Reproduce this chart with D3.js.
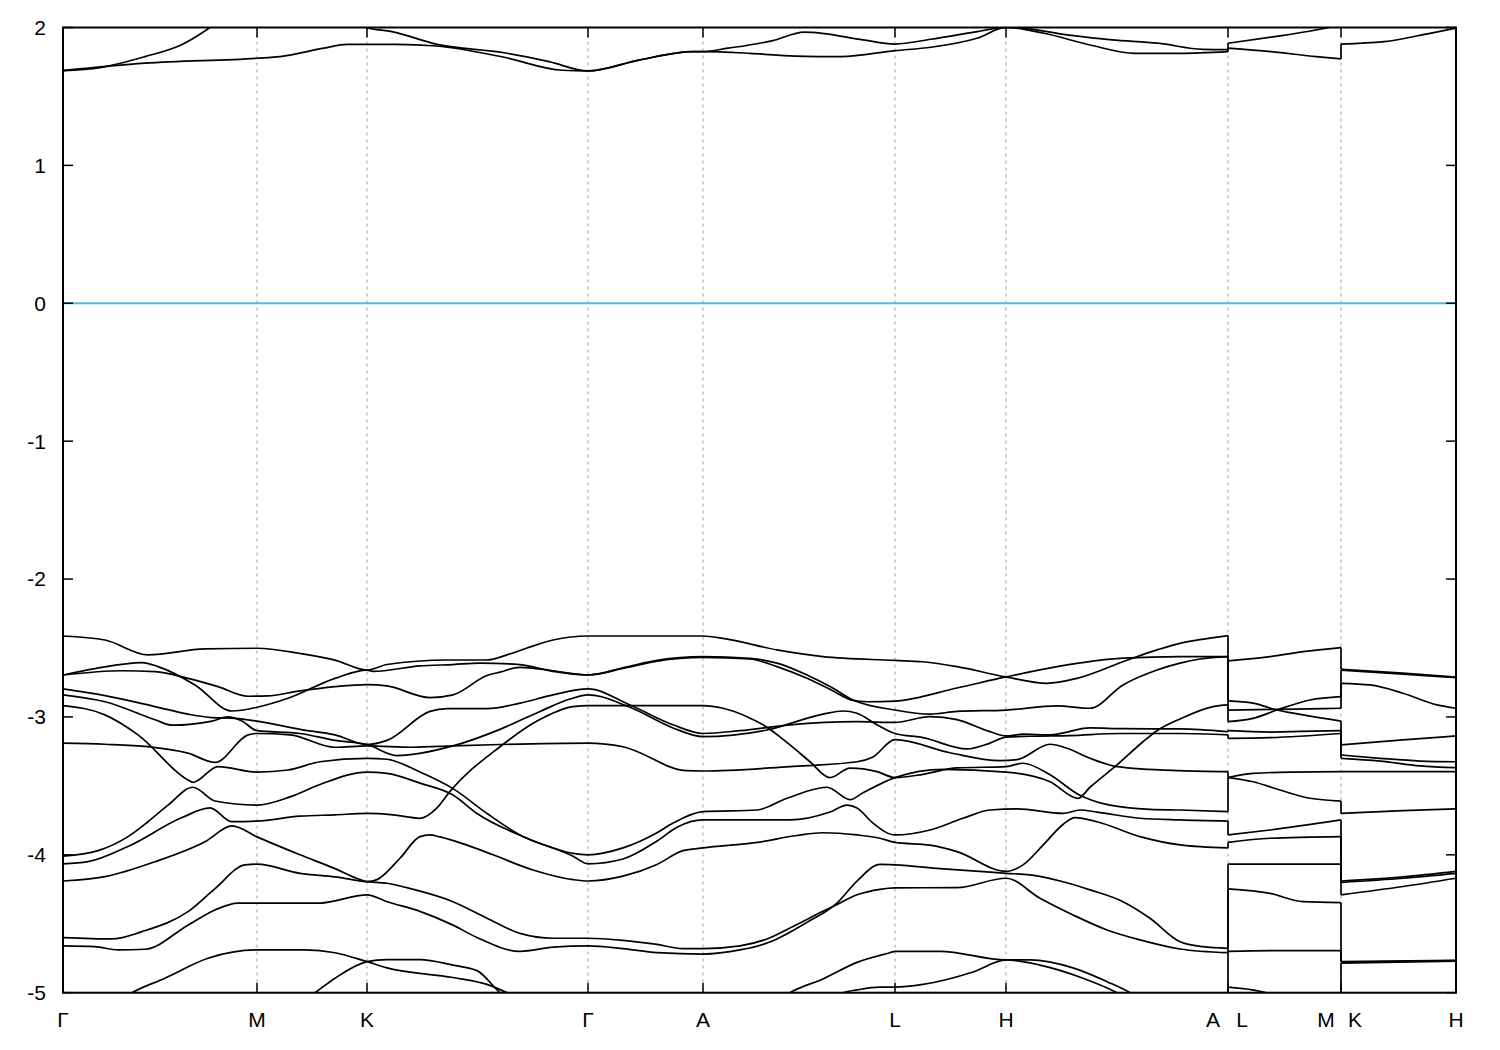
<!DOCTYPE html>
<html><head><meta charset="utf-8">
<script src="https://cdn.jsdelivr.net/npm/d3@7"></script>
<style>body{margin:0;background:#fff}svg{display:block}text{font-family:"Liberation Sans",Arial,sans-serif;font-size:21px;fill:#000}</style>
</head><body><svg id="chart" width="1500" height="1050"></svg>
<script>
// ---- axis data ----
const kTicks  = [0, 1.94, 3.04, 5.25, 6.40, 8.32, 9.43, 11.65, 12.78, 13.93];
const kLabels = ["Γ","M","K","Γ","A","L","H","A|L","M|K","H"];
const eTicks  = [-5,-4,-3,-2,-1,0,1,2];
const fermiLevel = 0;

// ---- valence bands, path Γ-M-K-Γ-A-L-H-A  ([k, E]) ----
const bandA = [[0,-2.413],[0.42,-2.442],[0.85,-2.55],[1.42,-2.507],[1.94,-2.502],[2.37,-2.54],[2.72,-2.588],[3.04,-2.66],[3.24,-2.62],[3.84,-2.587],[4.24,-2.587],[4.44,-2.55],[4.64,-2.50],[4.90,-2.442],[5.25,-2.413],[6.40,-2.413],[6.60,-2.43],[7.14,-2.514],[7.60,-2.563],[8.32,-2.59],[8.60,-2.60],[8.94,-2.635],[9.43,-2.71],[9.84,-2.756],[10.14,-2.72],[10.60,-2.60],[10.94,-2.514],[11.17,-2.466],[11.37,-2.44],[11.65,-2.41]];
const bandB = [[0,-2.696],[0.32,-2.65],[0.79,-2.606],[0.95,-2.635],[1.32,-2.768],[1.69,-2.957],[1.94,-2.93],[2.25,-2.865],[2.72,-2.72],[3.04,-2.66],[3.10,-2.67],[3.57,-2.63],[3.90,-2.62],[4.17,-2.61],[4.57,-2.62],[4.90,-2.67],[5.25,-2.696],[5.62,-2.64],[5.94,-2.59],[6.40,-2.563],[6.87,-2.575],[7.14,-2.61],[7.44,-2.696],[7.67,-2.78],[7.90,-2.877],[8.32,-2.95],[8.67,-2.98],[8.94,-2.96],[9.43,-2.95],[9.94,-2.92],[10.27,-2.937],[10.60,-2.768],[10.94,-2.66],[11.17,-2.61],[11.37,-2.58],[11.65,-2.563]];
const bandC = [[0,-2.696],[0.59,-2.665],[0.92,-2.672],[1.25,-2.72],[1.55,-2.78],[1.85,-2.85],[2.05,-2.848],[2.32,-2.817],[2.72,-2.78],[3.04,-2.765],[3.24,-2.775],[3.67,-2.86],[3.90,-2.84],[4.24,-2.70],[4.37,-2.675],[4.57,-2.64],[4.90,-2.665],[5.25,-2.696],[5.62,-2.645],[5.94,-2.595],[6.40,-2.568],[6.87,-2.58],[7.14,-2.635],[7.44,-2.72],[7.67,-2.80],[7.90,-2.88],[8.04,-2.89],[8.32,-2.885],[8.94,-2.79],[9.43,-2.71],[9.94,-2.635],[10.60,-2.574],[11.17,-2.563],[11.65,-2.563]];
const bandD = [[0,-2.797],[0.42,-2.846],[0.92,-2.925],[1.25,-2.98],[1.49,-3.005],[1.72,-3.01],[1.94,-3.03],[2.37,-3.09],[2.72,-3.13],[3.04,-3.20],[3.24,-3.17],[3.67,-2.96],[3.84,-2.94],[4.24,-2.94],[4.57,-2.90],[4.90,-2.84],[5.25,-2.797],[5.67,-2.913],[6.10,-3.057],[6.40,-3.12],[6.77,-3.10],[7.27,-3.057],[7.94,-3.034],[8.32,-3.04],[8.67,-2.998],[8.94,-3.02],[9.27,-3.107],[9.43,-3.138],[9.60,-3.125],[9.87,-3.13],[10.27,-3.08],[10.60,-3.085],[11.17,-3.087],[11.65,-3.107]];
const bandE = [[0,-2.84],[0.42,-2.89],[0.92,-3.02],[1.09,-3.06],[1.49,-3.03],[1.65,-3.0],[1.79,-3.03],[1.94,-3.10],[2.37,-3.12],[2.72,-3.17],[3.04,-3.20],[3.34,-3.28],[3.90,-3.21],[4.37,-3.09],[4.77,-2.96],[5.07,-2.87],[5.25,-2.84],[5.67,-2.93],[6.10,-3.08],[6.40,-3.143],[7.04,-3.095],[7.60,-2.98],[7.80,-2.957],[7.94,-2.973],[8.14,-3.057],[8.32,-3.12],[8.60,-3.15],[9.04,-3.232],[9.27,-3.19],[9.43,-3.147],[9.67,-3.14],[10.07,-3.135],[10.57,-3.12],[11.17,-3.12],[11.65,-3.13]];
const bandF2 = [[0,-3.19],[0.42,-3.198],[0.85,-3.216],[1.25,-3.263],[1.52,-3.33],[1.85,-3.13],[1.94,-3.12],[2.27,-3.13],[2.72,-3.22],[3.04,-3.21],[3.50,-3.22],[3.90,-3.21],[4.37,-3.20],[5.25,-3.19],[5.60,-3.216],[6.24,-3.39],[6.40,-3.392],[7.27,-3.36],[7.94,-3.325],[8.10,-3.29],[8.32,-3.165],[8.87,-3.26],[9.37,-3.317],[9.54,-3.31],[9.87,-3.198],[10.04,-3.227],[10.27,-3.30],[10.54,-3.36],[11.17,-3.39],[11.65,-3.397]];
const bandF = [[0,-2.918],[0.42,-2.985],[0.75,-3.13],[1.25,-3.457],[1.30,-3.474],[1.55,-3.36],[1.94,-3.40],[2.25,-3.385],[2.57,-3.325],[3.04,-3.30],[3.24,-3.307],[3.57,-3.40],[3.90,-3.52],[4.24,-3.70],[4.57,-3.856],[4.90,-3.95],[5.10,-3.99],[5.25,-4.0],[5.60,-3.95],[5.94,-3.84],[6.10,-3.77],[6.40,-3.687],[6.94,-3.675],[7.24,-3.59],[7.64,-3.51],[7.87,-3.60],[8.00,-3.55],[8.32,-3.44],[8.80,-3.38],[9.43,-3.40],[9.87,-3.47],[10.15,-3.59],[10.27,-3.51],[10.54,-3.348],[10.80,-3.18],[10.94,-3.10],[11.17,-3.015],[11.50,-2.925],[11.65,-2.913]];
const bandG = [[0,-4.01],[0.35,-3.97],[0.65,-3.868],[0.85,-3.76],[1.05,-3.64],[1.30,-3.51],[1.52,-3.61],[1.94,-3.64],[2.27,-3.58],[2.57,-3.49],[3.04,-3.40],[3.24,-3.41],[3.57,-3.48],[3.90,-3.566],[4.14,-3.70],[4.64,-3.88],[5.10,-4.01],[5.25,-4.065],[5.60,-4.03],[5.94,-3.90],[6.14,-3.80],[6.40,-3.747],[7.27,-3.747],[7.67,-3.69],[7.84,-3.64],[7.94,-3.66],[8.10,-3.77],[8.32,-3.856],[8.67,-3.82],[9.00,-3.735],[9.27,-3.675],[9.54,-3.667],[10.00,-3.70],[10.17,-3.675],[10.34,-3.69],[10.77,-3.735],[11.17,-3.747],[11.65,-3.755]];
const bandI = [[0,-4.065],[0.25,-4.05],[0.65,-3.94],[1.19,-3.73],[1.47,-3.66],[1.69,-3.76],[1.94,-3.755],[2.37,-3.72],[2.72,-3.71],[3.04,-3.70],[3.30,-3.71],[3.57,-3.735],[3.74,-3.66],[3.87,-3.54],[4.37,-3.216],[4.74,-3.03],[5.10,-2.925],[5.25,-2.918],[6.40,-2.918],[6.60,-2.937],[6.84,-2.998],[7.00,-3.057],[7.27,-3.203],[7.47,-3.325],[7.67,-3.44],[7.87,-3.372],[8.14,-3.397],[8.32,-3.44],[8.60,-3.416],[8.94,-3.37],[9.43,-3.36],[9.60,-3.336],[9.87,-3.42],[10.15,-3.56],[10.47,-3.64],[10.87,-3.67],[11.17,-3.675],[11.65,-3.687]];
const bandJ = [[0,-4.19],[0.42,-4.158],[0.92,-4.05],[1.42,-3.905],[1.69,-3.79],[1.94,-3.87],[2.37,-4.0],[2.72,-4.10],[2.97,-4.18],[3.04,-4.195],[3.14,-4.18],[3.37,-4.025],[3.57,-3.868],[3.67,-3.856],[3.77,-3.87],[4.04,-3.93],[4.30,-4.0],[4.70,-4.11],[5.10,-4.18],[5.25,-4.19],[5.60,-4.155],[5.94,-4.07],[6.20,-3.97],[6.40,-3.95],[6.94,-3.91],[7.34,-3.86],[7.60,-3.84],[7.94,-3.856],[8.17,-3.88],[8.32,-3.91],[8.67,-3.93],[8.94,-3.977],[9.43,-4.12],[9.60,-4.073],[9.80,-3.93],[10.00,-3.78],[10.12,-3.73],[10.34,-3.76],[10.77,-3.868],[11.17,-3.928],[11.65,-3.95]];
const bandK = [[0,-4.60],[0.49,-4.61],[0.79,-4.557],[1.25,-4.412],[1.52,-4.245],[1.82,-4.073],[1.94,-4.068],[2.37,-4.134],[2.72,-4.16],[3.04,-4.195],[3.24,-4.206],[3.50,-4.25],[3.90,-4.34],[4.24,-4.46],[4.57,-4.57],[4.90,-4.605],[5.25,-4.605],[5.60,-4.62],[5.94,-4.65],[6.20,-4.68],[6.40,-4.68],[6.77,-4.66],[7.04,-4.61],[7.27,-4.53],[7.60,-4.41],[7.74,-4.36],[7.94,-4.29],[8.17,-4.25],[8.32,-4.24],[8.94,-4.238],[9.43,-4.17],[9.77,-4.315],[10.10,-4.436],[10.44,-4.545],[10.77,-4.617],[11.17,-4.683],[11.65,-4.71]];
const bandL = [[0,-4.66],[0.32,-4.666],[0.55,-4.69],[0.82,-4.685],[1.25,-4.51],[1.52,-4.40],[1.75,-4.35],[1.94,-4.35],[2.57,-4.35],[3.04,-4.29],[3.24,-4.34],[3.57,-4.41],[3.90,-4.51],[4.14,-4.60],[4.57,-4.70],[4.90,-4.67],[5.25,-4.66],[5.60,-4.68],[5.94,-4.71],[6.40,-4.72],[6.77,-4.69],[7.04,-4.64],[7.14,-4.61],[7.44,-4.49],[7.74,-4.35],[7.94,-4.19],[8.17,-4.07],[8.32,-4.073],[8.77,-4.10],[9.43,-4.134],[9.67,-4.146],[10.00,-4.195],[10.27,-4.254],[10.60,-4.34],[10.87,-4.46],[11.17,-4.63],[11.40,-4.666],[11.65,-4.678]];
const bandM = [[0.52,-5.08],[0.69,-5.0],[1.02,-4.895],[1.45,-4.75],[1.94,-4.69],[2.42,-4.69],[2.72,-4.71],[3.04,-4.775],[3.24,-4.82],[3.90,-4.89],[4.24,-4.94],[4.44,-5.0],[4.67,-5.08]];
const bandN = [[2.32,-5.1],[2.52,-5.0],[2.72,-4.895],[3.04,-4.775],[3.24,-4.76],[3.57,-4.76],[3.90,-4.80],[4.14,-4.84],[4.37,-5.0],[4.57,-5.1]];
const bandP = [[7.07,-5.1],[7.27,-5.0],[7.60,-4.90],[7.94,-4.78],[8.27,-4.71],[8.32,-4.70],[8.77,-4.70],[9.43,-4.762],[9.67,-4.762],[10.10,-4.82],[10.44,-4.92],[10.67,-5.0],[10.87,-5.1]];
const bandQ = [[7.62,-5.08],[7.80,-5.0],[7.94,-4.98],[8.17,-4.96],[8.32,-4.96],[8.60,-4.94],[9.10,-4.85],[9.43,-4.762],[9.77,-4.80],[10.20,-4.895],[10.54,-5.0],[10.77,-5.1]];

// ---- valence bands, L-M ----
const lmBands = [
  [[11.65,-2.594],[12.07,-2.563],[12.40,-2.527],[12.78,-2.497]],
  [[11.65,-2.884],[11.90,-2.90],[12.14,-2.95],[12.40,-2.985],[12.78,-3.03]],
  [[11.65,-2.95],[12.17,-2.945],[12.78,-2.937]],
  [[11.65,-3.034],[11.90,-3.01],[12.14,-2.95],[12.47,-2.877],[12.78,-2.853]],
  [[11.65,-3.10],[12.07,-3.11],[12.37,-3.105],[12.78,-3.10]],
  [[11.65,-3.155],[12.07,-3.15],[12.78,-3.12]],
  [[11.65,-3.44],[11.90,-3.47],[12.17,-3.53],[12.47,-3.59],[12.78,-3.61]],
  [[11.65,-3.44],[11.90,-3.41],[12.27,-3.40],[12.78,-3.397]],
  [[11.65,-3.856],[12.07,-3.82],[12.78,-3.747]],
  [[11.65,-3.91],[12.07,-3.88],[12.78,-3.868]],
  [[11.65,-4.068],[12.78,-4.068]],
  [[11.65,-4.247],[12.07,-4.28],[12.40,-4.34],[12.78,-4.347]],
  [[11.65,-4.70],[12.07,-4.695],[12.78,-4.695]],
  [[11.65,-4.96],[11.97,-4.99],[12.12,-5.02],[12.27,-5.08]]
];
// ---- valence bands, K-H ----
const khBands = [
  [[12.78,-2.654],[13.40,-2.683],[13.93,-2.712]],
  [[12.78,-2.66],[13.40,-2.69],[13.93,-2.715]],
  [[12.78,-2.756],[13.07,-2.768],[13.40,-2.828],[13.74,-2.913],[13.93,-2.937]],
  [[12.78,-3.203],[13.40,-3.167],[13.93,-3.138]],
  [[12.78,-3.276],[13.17,-3.30],[13.57,-3.32],[13.93,-3.325]],
  [[12.78,-3.30],[13.17,-3.32],[13.57,-3.355],[13.93,-3.368]],
  [[12.78,-3.397],[13.93,-3.397]],
  [[12.78,-3.70],[13.40,-3.68],[13.93,-3.667]],
  [[12.78,-4.19],[13.40,-4.16],[13.93,-4.12]],
  [[12.78,-4.20],[13.40,-4.17],[13.93,-4.134]],
  [[12.78,-4.29],[13.40,-4.23],[13.93,-4.17]],
  [[12.78,-4.775],[13.93,-4.765]],
  [[12.78,-4.78],[13.93,-4.768]],
  [[12.78,-4.785],[13.93,-4.772]]
];

// ---- conduction bands ----
const cbBand1 = [[0,1.687],[0.37,1.709],[0.82,1.789],[1.18,1.873],[1.47,2.0],[1.62,2.08]];
const cbBand2 = [[0,1.687],[0.82,1.741],[1.94,1.777],[2.17,1.789],[2.61,1.85],[2.84,1.878],[3.33,1.878],[3.74,1.866],[4.41,1.784],[4.99,1.69],[5.25,1.685],[5.76,1.764],[6.30,1.825],[6.40,1.825],[6.87,1.813],[7.32,1.793],[7.78,1.789],[8.32,1.832],[8.68,1.857],[9.14,1.922],[9.43,2.0],[9.81,1.958],[10.27,1.873],[10.72,1.813],[11.17,1.813],[11.65,1.825]];
const cbBand3 = [[2.82,2.08],[3.03,2.0],[3.29,1.97],[3.74,1.878],[4.41,1.817],[4.86,1.752],[5.25,1.685],[5.76,1.764],[6.30,1.825],[6.40,1.825],[6.65,1.85],[6.97,1.886],[7.10,1.905],[7.41,1.966],[7.59,1.958],[8.00,1.91],[8.32,1.88],[8.68,1.915],[9.14,1.97],[9.43,2.0],[9.50,2.0],[10.04,1.946],[10.49,1.91],[10.95,1.886],[11.40,1.842],[11.65,1.84]];
const cbLM = [
  [[11.65,1.886],[12.08,1.93],[12.53,1.982],[12.78,2.02]],
  [[11.65,1.85],[12.08,1.825],[12.53,1.789],[12.78,1.772]]
];
const cbKH = [
  [[12.78,1.88],[13.21,1.897],[13.67,1.958],[13.93,1.995]]
];

// ---- band energies either side of the path breaks (sorted) ----
const breakAL_A = [1.84, 1.825, -2.41, -2.563, -2.563, -2.913, -3.107, -3.13, -3.397, -3.687, -3.755, -3.95, -4.678, -4.71, -5.2, -5.3];
const breakAL_L = [1.886, 1.85, -2.594, -2.884, -2.95, -3.034, -3.10, -3.155, -3.44, -3.44, -3.856, -3.91, -4.068, -4.247, -4.70, -4.96];
const breakMK_M = [2.02, 1.772, -2.497, -2.853, -2.937, -3.03, -3.10, -3.12, -3.397, -3.61, -3.747, -3.868, -4.068, -4.347, -4.695, -5.2];
const breakMK_K = [2.05, 1.88, -2.654, -2.66, -2.756, -3.203, -3.276, -3.30, -3.397, -3.70, -4.19, -4.20, -4.29, -4.775, -4.78, -4.785];

// ---- drawing ----
const svg = d3.select("#chart");
const pL = 63, pR = 1456, pT = 27.5, pB = 992.7;
const x = d3.scaleLinear().domain([kTicks[0], kTicks[kTicks.length-1]]).range([pL, pR]);
const y = d3.scaleLinear().domain([-5, 2]).range([pB, pT]);

svg.append("defs").append("clipPath").attr("id","plot")
  .append("rect").attr("x",pL).attr("y",pT).attr("width",pR-pL).attr("height",pB-pT);

// dashed high-symmetry lines
svg.append("g").selectAll("line").data(kTicks.slice(1,-1)).join("line")
  .attr("x1",d=>x(d)).attr("x2",d=>x(d)).attr("y1",pT).attr("y2",pB)
  .attr("stroke","#a0a0a0").attr("stroke-width",1).attr("stroke-dasharray","3,4");

// Fermi level
svg.append("line").attr("x1",pL).attr("x2",pR).attr("y1",y(fermiLevel)).attr("y2",y(fermiLevel))
  .attr("stroke","#56b4e9").attr("stroke-width",2);

const g = svg.append("g").attr("clip-path","url(#plot)");
const line = d3.line().x(d=>x(d[0])).y(d=>y(d[1])).curve(d3.curveMonotoneX);
const allBands = [bandA,bandB,bandC,bandD,bandE,bandF2,bandF,bandG,bandI,bandJ,bandK,bandL,bandM,bandN,bandP,bandQ,
  ...lmBands, ...khBands, cbBand1, cbBand2, cbBand3, ...cbLM, ...cbKH];
g.selectAll("path.band").data(allBands).join("path").attr("class","band")
  .attr("d",line).attr("fill","none").attr("stroke","#000").attr("stroke-width",1.7);

// vertical connectors at the path breaks
const kAL = kTicks[7], kMK = kTicks[8];
g.selectAll("line.jal").data(d3.zip(breakAL_A, breakAL_L)).join("line").attr("class","jal")
  .attr("x1",x(kAL)).attr("x2",x(kAL)).attr("y1",d=>y(d[0])).attr("y2",d=>y(d[1]))
  .attr("stroke","#000").attr("stroke-width",1.7);
g.selectAll("line.jmk").data(d3.zip(breakMK_M, breakMK_K)).join("line").attr("class","jmk")
  .attr("x1",x(kMK)).attr("x2",x(kMK)).attr("y1",d=>y(d[0])).attr("y2",d=>y(d[1]))
  .attr("stroke","#000").attr("stroke-width",1.7);

// frame
svg.append("rect").attr("x",pL).attr("y",pT).attr("width",pR-pL).attr("height",pB-pT)
  .attr("fill","none").attr("stroke","#000").attr("stroke-width",2);

// ticks (inward, mirrored)
const tl = 10;
const tk = svg.append("g").attr("stroke","#000").attr("stroke-width",1.5);
eTicks.forEach(e=>{
  tk.append("line").attr("x1",pL).attr("x2",pL+tl).attr("y1",y(e)).attr("y2",y(e));
  tk.append("line").attr("x1",pR).attr("x2",pR-tl).attr("y1",y(e)).attr("y2",y(e));
});
kTicks.forEach(k=>{
  tk.append("line").attr("x1",x(k)).attr("x2",x(k)).attr("y1",pB).attr("y2",pB-tl);
  tk.append("line").attr("x1",x(k)).attr("x2",x(k)).attr("y1",pT).attr("y2",pT+tl);
});

// tick labels
svg.append("g").selectAll("text").data(eTicks).join("text")
  .attr("x",pL-17).attr("y",d=>y(d)).attr("dy","0.35em").attr("text-anchor","end")
  .text(d=>String(d));
const xl = svg.append("g");
kTicks.forEach((k,i)=>{
  const parts = kLabels[i].split("|");
  if(parts.length===1){
    xl.append("text").attr("x",x(k)).attr("y",1027).attr("text-anchor","middle").text(parts[0]);
  } else {
    xl.append("text").attr("x",x(k)-15).attr("y",1027).attr("text-anchor","middle").text(parts[0]);
    xl.append("text").attr("x",x(k)+14).attr("y",1027).attr("text-anchor","middle").text(parts[1]);
  }
});
</script></body></html>
